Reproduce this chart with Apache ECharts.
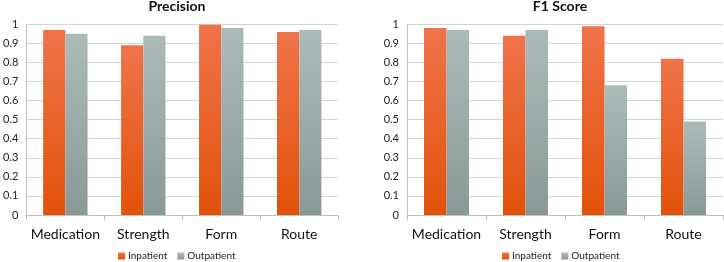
<!DOCTYPE html>
<html>
<head>
<meta charset="utf-8">
<script src="https://cdn.jsdelivr.net/npm/echarts@6/dist/echarts.min.js"></script>
<style>
  html, body { margin: 0; padding: 0; background: #fff; }
  #chart { width: 724px; height: 262px; }
</style>
</head>
<body>
<div id="chart"></div>
<script>
const categories = ['Medication', 'Strength', 'Form', 'Route'];
const seriesNames = ['Inpatient', 'Outpatient'];
const precisionInpatient = [0.97, 0.89, 0.997, 0.96];
const precisionOutpatient = [0.95, 0.94, 0.98, 0.97];
const f1Inpatient = [0.98, 0.94, 0.99, 0.82];
const f1Outpatient = [0.97, 0.97, 0.68, 0.49];
const yTicks = [0, 0.1, 0.2, 0.3, 0.4, 0.5, 0.6, 0.7, 0.8, 0.9, 1];

const font = 'Lato, "Liberation Sans", sans-serif';

const orange = {
    type: 'linear', x: 0, y: 0, x2: 0, y2: 1,
    colorStops: [{ offset: 0, color: '#f0734a' }, { offset: 1, color: '#e2520a' }]
};
const grey = {
    type: 'linear', x: 0, y: 0, x2: 0, y2: 1,
    colorStops: [{ offset: 0, color: '#adbbb8' }, { offset: 1, color: '#8a9997' }]
};

function xAxis(idx) {
    return {
        type: 'category', gridIndex: idx, data: categories,
        axisLine: { lineStyle: { color: '#bfbfbf' } },
        axisTick: { show: true, length: 5, lineStyle: { color: '#bfbfbf' } },
        axisLabel: { interval: 0, fontFamily: font, fontSize: 14, color: '#111', margin: 12 }
    };
}
function yAxis(idx) {
    return {
        type: 'value', gridIndex: idx, min: 0, max: 1, interval: 0.1,
        axisLine: { show: true, lineStyle: { color: '#bfbfbf' } },
        axisTick: { show: false },
        splitLine: { lineStyle: { color: '#d4d4d4' } },
        axisLabel: {
            fontFamily: font, fontSize: 11, color: '#222', margin: 8,
            formatter: v => {
                const t = yTicks.find(x => Math.abs(x - v) < 1e-6);
                return t === undefined ? '' : String(t);
            }
        }
    };
}
function bars(name, data, idx, color) {
    return {
        name, type: 'bar', xAxisIndex: idx, yAxisIndex: idx, data,
        barGap: '0%', barCategoryGap: '43%',
        itemStyle: { color }
    };
}
function legend(left) {
    return {
        data: seriesNames, left, top: 251, padding: 0,
        itemWidth: 7, itemHeight: 7, itemGap: 10,
        icon: 'rect',
        textStyle: { fontFamily: font, fontSize: 10, color: '#222', padding: [0, 0, 0, -2] }
    };
}

const chart = echarts.init(document.getElementById('chart'));
chart.setOption({
    animation: false,
    title: [
        { text: 'Precision', left: 172, top: -6, textAlign: 'center',
          textStyle: { fontFamily: font, fontSize: 14, fontWeight: 'bold', color: '#111' } },
        { text: 'F1 Score', left: 555, top: -6, textAlign: 'center',
          textStyle: { fontFamily: font, fontSize: 14, fontWeight: 'bold', color: '#111' } }
    ],
    legend: [legend(118), legend(502)],
    grid: [
        { left: 22.7, top: 24.3, width: 315.5, height: 190.7 },
        { left: 407, top: 24.3, width: 316, height: 190.7 }
    ],
    xAxis: [xAxis(0), xAxis(1)],
    yAxis: [yAxis(0), yAxis(1)],
    series: [
        bars('Inpatient', precisionInpatient, 0, orange),
        bars('Outpatient', precisionOutpatient, 0, grey),
        bars('Inpatient', f1Inpatient, 1, orange),
        bars('Outpatient', f1Outpatient, 1, grey)
    ]
});
</script>
</body>
</html>
